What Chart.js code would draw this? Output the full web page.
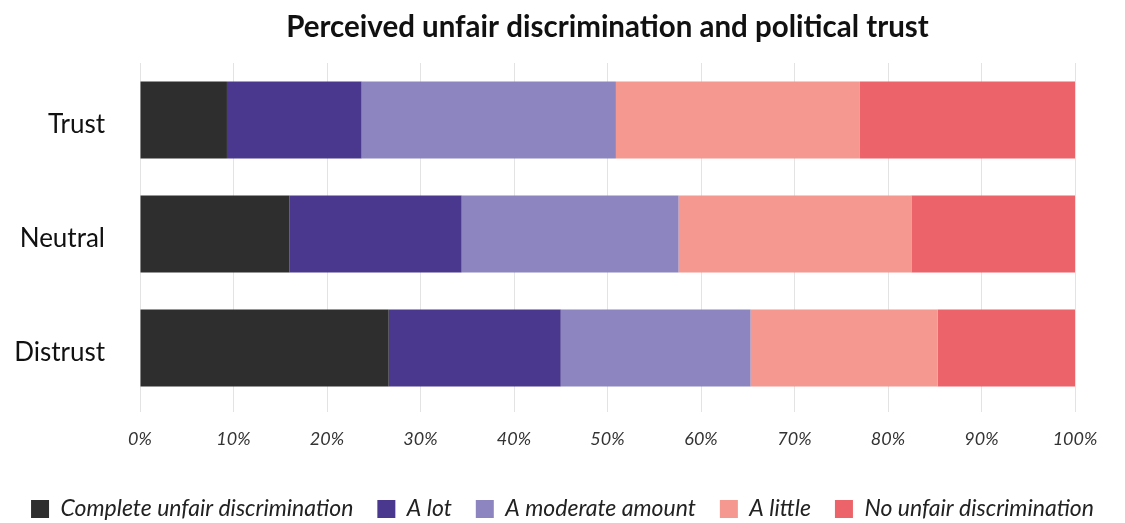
<!DOCTYPE html>
<html>
<head>
<meta charset="utf-8">
<script src="https://cdn.jsdelivr.net/npm/chart.js@4"></script>
<style>
  html, body { margin: 0; padding: 0; background: #ffffff; }
  #wrap { width: 1125px; height: 523px; }
</style>
</head>
<body>
<div id="wrap"><canvas id="barChart" width="1125" height="523"></canvas></div>
<script>
const categories = ['Trust', 'Neutral', 'Distrust'];
const seriesNames = ['Complete unfair discrimination', 'A lot', 'A moderate amount', 'A little', 'No unfair discrimination'];
const seriesColors = ['#2e2e2e', '#4a388f', '#8c85bf', '#f49890', '#ec6369'];

const completeUnfair = [9.3, 16.0, 26.6];
const aLot = [14.4, 18.4, 18.4];
const aModerate = [27.2, 23.2, 20.3];
const aLittle = [26.1, 24.9, 20.0];
const noUnfair = [23.0, 17.5, 14.7];

const xTicks = [0, 10, 20, 30, 40, 50, 60, 70, 80, 90, 100];

const allSeries = [completeUnfair, aLot, aModerate, aLittle, noUnfair];

const legendPad = 24;
const legendFont = 23;

const ctx = document.getElementById('barChart').getContext('2d');

// put the legend row at y = 509
const legendShift = {
    id: 'legendShift',
    afterLayout(chart) {
        const lg = chart.legend;
        const h = lg.bottom - lg.top;
        lg.top = 509 - legendPad - legendFont / 2;
        lg.bottom = lg.top + h;
    }
};

const chartConfig = {
    type: 'bar',
    data: {
        labels: categories,
        datasets: allSeries.map((vals, i) => ({
            label: seriesNames[i],
            data: vals,
            backgroundColor: seriesColors[i],
            borderWidth: 0,
            barPercentage: 0.675,
            categoryPercentage: 1
        }))
    },
    options: {
        indexAxis: 'y',
        responsive: false,
        animation: false,
        layout: { padding: { top: 10, left: 0, right: 0, bottom: 0 } },
        plugins: {
            title: {
                display: true,
                fullSize: false,
                text: 'Perceived unfair discrimination and political trust',
                color: '#111111',
                font: { family: 'Lato', size: 29.5, weight: 'bold' },
                padding: { top: 0, bottom: 17.6 }
            },
            legend: {
                display: true,
                position: 'bottom',
                labels: {
                    boxWidth: 18,
                    boxHeight: 18,
                    padding: legendPad,
                    color: '#222222',
                    font: { family: 'Lato', size: legendFont, style: 'italic' }
                }
            },
            tooltip: { enabled: false }
        },
        scales: {
            x: {
                stacked: true,
                min: 0,
                max: 100,
                afterBuildTicks: function(axis) {
                    axis.ticks = xTicks.map(v => ({ value: v }));
                },
                afterFit: function(axis) { axis.height = 61; },
                grid: {
                    display: true,
                    color: '#e3e3e3',
                    lineWidth: 1,
                    drawTicks: true,
                    tickLength: 7
                },
                border: { display: false },
                ticks: {
                    padding: 16,
                    color: '#333333',
                    font: { family: 'Lato', size: 18, style: 'italic' },
                    callback: function(value) { return value + '%'; }
                }
            },
            y: {
                stacked: true,
                afterFit: function(axis) { axis.width = 140; },
                grid: { display: false },
                border: { display: false },
                ticks: {
                    padding: 27,
                    labelOffset: 5,
                    color: '#111111',
                    font: { family: 'Lato', size: 26 }
                }
            },
            // empty right-hand spacer so the legend can use the full width
            yRight: {
                position: 'right',
                afterFit: function(axis) { axis.width = 50; },
                grid: { display: false },
                border: { display: false },
                ticks: { display: false }
            }
        }
    },
    plugins: [legendShift]
};

let myChart = new Chart(ctx, chartConfig);
</script>
</body>
</html>
